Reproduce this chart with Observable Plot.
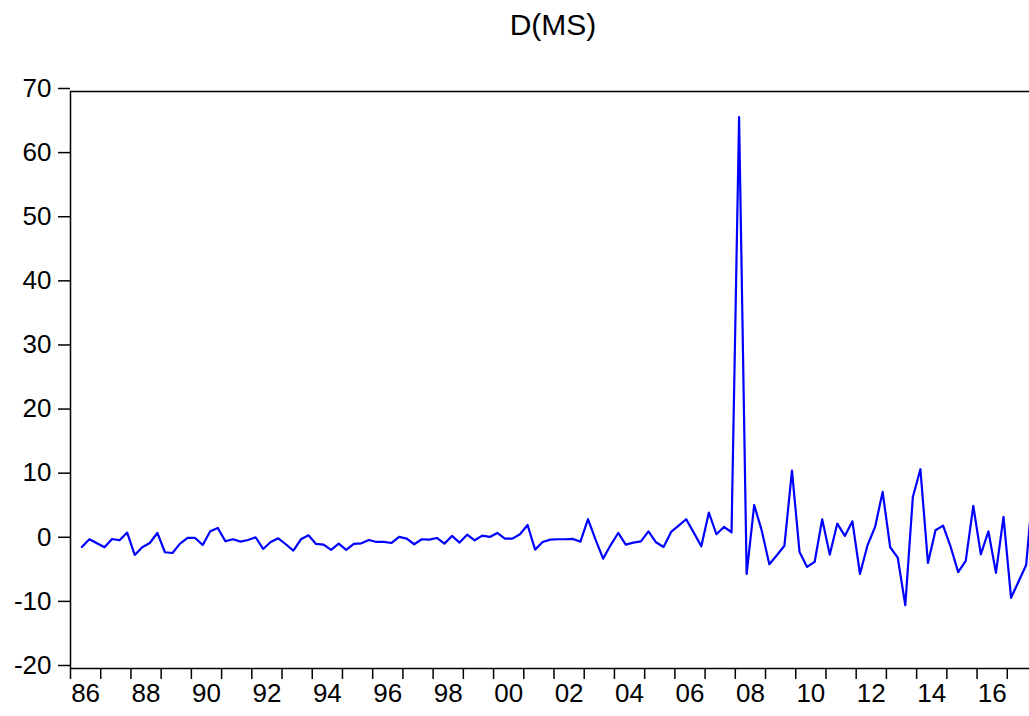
<!DOCTYPE html>
<html><head><meta charset="utf-8">
<script src="https://cdn.jsdelivr.net/npm/d3@7"></script>
<script src="https://cdn.jsdelivr.net/npm/@observablehq/plot@0.6"></script>
<style>
html,body{margin:0;padding:0;background:#fff;overflow:hidden;width:1029px;height:716px}
#wrap{position:relative;width:1029px;height:716px;overflow:hidden}
#wrap svg{position:absolute;left:0;top:0;max-width:none !important}
#title{position:absolute;top:10px;left:553px;transform:translateX(-50%);font-family:"Liberation Sans",Arial,sans-serif;font-size:30px;line-height:1;white-space:nowrap;color:#000;z-index:2}
</style></head><body><div id="wrap"><div id="title"></div></div>
<script>
const seriesName = "D(MS)";
const firstYear = 1986, firstQuarter = 2;
const values = [
 -1.04, 0.16, -0.47, -1.09, 0.2, 0.0, 1.2, -2.29, -1.09, -0.42,
 1.14, -1.87, -1.98, -0.52, 0.36, 0.36, -0.73, 1.40, 1.92, -0.16,
 0.16, -0.21, 0.05, 0.47, -1.35, -0.26, 0.31, -0.62, -1.61, 0.15,
 0.78, -0.57, -0.68, -1.51, -0.52, -1.51, -0.57, -0.47, 0.05, -0.26,
 -0.26, -0.42, 0.52, 0.26, -0.62, 0.16, 0.1, 0.36, -0.52, 0.68,
 -0.36, 0.88, 0.0, 0.73, 0.52, 1.14, 0.26, 0.26, 0.94, 2.39,
 -1.46, -0.26, 0.1, 0.16, 0.16, 0.21, -0.21, 3.3, 0.1, -2.86,
 -0.75, 1.14, -0.68, -0.36, -0.16, 1.4, -0.31, -1.04, 1.3, 2.29,
 3.28, 1.2, -0.94, 4.32, 0.94, 2.08, 1.25, 66.0, -5.25, 5.5,
 1.5, -3.74, -2.34, -0.85, 10.87, -1.82, -4.16, -3.38, 3.28, -2.24,
 2.6, 0.68, 2.96, -5.25, -0.78, 2.08, 7.54, -1.09, -2.7, -10.14,
 6.76, 11.08, -3.54, 1.56, 2.29, -1.0, -4.97, -3.2, 5.36, -2.2,
 1.4, -5.07, 3.64, -8.97, -6.42, -3.85, 9.5
];
const yearTicks = d3.range(1986, 2018);
const labelYears = [1986,1988,1990,1992,1994,1996,1998,2000,2002,2004,2006,2008,2010,2012,2014,2016];
const xTickLabels = ["86","88","90","92","94","96","98","00","02","04","06","08","10","12","14","16"];
const yTicks = [-20,-10,0,10,20,30,40,50,60,70];

document.getElementById("title").textContent = seriesName;

const data = values.map((v, k) => {
  const q = (firstQuarter - 1) + k;
  return {t: firstYear + (q + 0.5) / 4, v};
});

const chart = Plot.plot({
  width: 1040, height: 716,
  marginLeft: 70, marginRight: 3, marginTop: 91, marginBottom: 48,
  style: {fontFamily: '"Liberation Sans", Arial, sans-serif', fontSize: "26px", color: "#000", background: "#fff", overflow: "visible", maxWidth: "none"},
  x: {domain: [1986, 2018], label: null},
  y: {domain: [-20, 70], label: null},
  marks: [
    Plot.lineY(data, {x: "t", y: "v", stroke: "#0000ff", strokeWidth: 2.2, clip: true}),
    Plot.frame({stroke: "#000", strokeWidth: 1.5}),
    Plot.axisY({ticks: yTicks, tickSize: 12, tickPadding: 7, tickFormat: d => String(d), fontSize: 26, dy: -3, strokeWidth: 1.5, label: null}),
    Plot.axisX({ticks: yearTicks, tickSize: 11, tickFormat: () => "", strokeWidth: 1.5, label: null}),
    Plot.axisX({ticks: labelYears.map(y => y + 0.5), tickSize: 0, tickPadding: 15,
      tickFormat: d => xTickLabels[labelYears.indexOf(Math.round(d - 0.5))], fontSize: 26, label: null})
  ]
});
chart.style.maxWidth = "none";
chart.setAttribute("width", 1040);
document.getElementById("wrap").appendChild(chart);
</script>
</body></html>
